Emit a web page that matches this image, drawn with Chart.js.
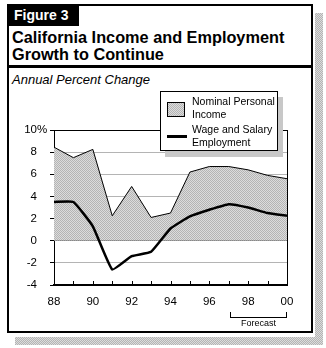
<!DOCTYPE html>
<html lang="en">
<head>
  <meta charset="UTF-8">
  <title>Figure 3</title>
  <script src="https://cdn.jsdelivr.net/npm/chart.js"></script>
  <style>
    body { margin: 0; width: 326px; height: 348px; position: relative; background: #fff; overflow: hidden;
           font-family: "Liberation Sans", Arial, sans-serif; }
    .abs { position: absolute; }
    .dither { background: repeating-conic-gradient(#b4b4b4 0 25%, #dcdcdc 0 50%) 0 0 / 2px 2px; }
    #shadowR { left: 315px; top: 13px; width: 8px; height: 332px; }
    #shadowB { left: 15px; top: 337px; width: 308px; height: 8px; }
    #frame { left: 7px; top: 4px; width: 306px; height: 329px; border: 2px solid #000; box-sizing: border-box; background: #fff; }
    #tag { left: 7px; top: 4px; width: 72px; height: 22px; background: #000; color: #fff;
           font-weight: bold; font-size: 14px; line-height: 22px; padding-left: 7px; box-sizing: border-box; }
    #title { left: 12px; top: 29px; font-weight: bold; font-size: 16.3px; line-height: 17px; color: #000; }
    #rule { left: 7px; top: 65px; width: 306px; height: 3px; background: #000; }
    #sub { left: 12px; top: 72px; font-style: italic; font-size: 13px; }
    #chart { left: 0; top: 0; }
    #legend { left: 160px; top: 91px; width: 118px; height: 60px; border: 1px solid #000; background: #fff;
              box-sizing: border-box; box-shadow: 5px 6px 0 #c8c8c8; font-size: 10.5px; line-height: 12.5px; }
    #legend .sw { position: absolute; left: 6px; top: 10px; width: 18px; height: 15px; border: 1px solid #000; box-sizing: border-box; }
    #legend .ln { position: absolute; left: 6px; top: 43px; width: 20px; height: 3px; background: #000; }
    #legend .t1 { position: absolute; left: 31px; top: 3px; }
    #legend .t2 { position: absolute; left: 31px; top: 31px; }
    #bracket { left: 230px; top: 312px; width: 57px; height: 6px; border: 1px solid #000; border-top: none; box-sizing: border-box; }
    #fc { left: 230px; top: 318px; width: 57px; text-align: center; font-size: 9px; }
  </style>
</head>
<body>
  <div class="abs dither" id="shadowR"></div>
  <div class="abs dither" id="shadowB"></div>
  <div class="abs" id="frame"></div>
  <div class="abs" id="tag">Figure 3</div>
  <div class="abs" id="title">California Income and Employment<br>Growth to Continue</div>
  <div class="abs" id="rule"></div>
  <div class="abs" id="sub">Annual Percent Change</div>
  <canvas class="abs" id="chart" width="326" height="348"></canvas>
  <div class="abs" id="legend">
    <div class="sw dither"></div>
    <div class="t1">Nominal Personal<br>Income</div>
    <div class="ln"></div>
    <div class="t2">Wage and Salary<br>Employment</div>
  </div>
  <div class="abs" id="bracket"></div>
  <div class="abs" id="fc">Forecast</div>

  <script>
    // years 1988-2000, percent change
    const years = [88, 89, 90, 91, 92, 93, 94, 95, 96, 97, 98, 99, 100];
    const personalIncome = [8.45, 7.5, 8.25, 2.25, 4.9, 2.1, 2.5, 6.2, 6.7, 6.7, 6.4, 5.9, 5.6];
    const wageEmployment = [3.5, 3.5, 1.3, -2.6, -1.4, -1.0, 1.1, 2.2, 2.8, 3.3, 3.0, 2.5, 2.25];
    const yTicks = [-4, -2, 0, 2, 4, 6, 8, 10];

    // checkerboard gray for the income area
    const pc = document.createElement('canvas');
    pc.width = 2; pc.height = 2;
    const pctx = pc.getContext('2d');
    pctx.fillStyle = '#dcdcdc'; pctx.fillRect(0, 0, 2, 2);
    pctx.fillStyle = '#b4b4b4'; pctx.fillRect(0, 0, 1, 1); pctx.fillRect(1, 1, 1, 1);
    const ctx = document.getElementById('chart');
    const dither = ctx.getContext('2d').createPattern(pc, 'repeat');

    const axisFont = { family: '"Liberation Sans", Arial, sans-serif', size: 11.5 };

    // small year ticks pointing up from the x axis, and the % sign after 10
    const extras = {
      id: 'extras',
      afterDraw(chart) {
        const c = chart.ctx, x = chart.scales.x, y = chart.scales.y;
        c.save();
        c.strokeStyle = '#000';
        c.lineWidth = 1;
        years.forEach(v => {
          const px = Math.round(x.getPixelForValue(v)) + 0.5;
          c.beginPath();
          c.moveTo(px, chart.chartArea.bottom);
          c.lineTo(px, chart.chartArea.bottom - 4);
          c.stroke();
        });
        c.fillStyle = '#000';
        c.font = '11.5px "Liberation Sans", Arial, sans-serif';
        c.textAlign = 'left';
        c.textBaseline = 'middle';
        c.fillText('%', 37, y.getPixelForValue(10));
        c.restore();
      }
    };

    new Chart(ctx, {
      type: 'line',
      data: {
        datasets: [{
          label: 'Wage and Salary Employment',
          data: years.map((v, i) => ({ x: v, y: wageEmployment[i] })),
          borderColor: '#000',
          borderWidth: 2.5,
          pointRadius: 0,
          tension: 0.12,
          fill: false,
          order: 1
        }, {
          label: 'Nominal Personal Income',
          data: years.map((v, i) => ({ x: v, y: personalIncome[i] })),
          borderColor: '#000',
          borderWidth: 1,
          backgroundColor: dither,
          pointRadius: 0,
          tension: 0,
          fill: 'origin',
          order: 2
        }]
      },
      options: {
        responsive: false,
        animation: false,
        layout: { padding: { left: 0, right: 39, top: 130, bottom: 43 } },
        plugins: { legend: { display: false }, tooltip: { enabled: false } },
        scales: {
          x: {
            type: 'linear',
            min: 88, max: 100,
            afterBuildTicks: s => { s.ticks = years.map(v => ({ value: v })); },
            afterFit: s => { s.height = 20; },
            ticks: {
              autoSkip: false,
              maxRotation: 0,
              padding: 10,
              color: '#000',
              font: axisFont,
              callback: v => v % 2 === 0 ? String(v % 100).padStart(2, '0') : ''
            },
            grid: {
              drawTicks: false,
              color: c => c.tick && c.tick.value === 100 ? '#000' : 'rgba(0,0,0,0)'
            },
            border: { color: '#000', width: 2 }
          },
          y: {
            min: -4, max: 10,
            afterBuildTicks: s => { s.ticks = yTicks.map(v => ({ value: v })); },
            afterFit: s => { s.width = 54; },
            ticks: { padding: 13, color: '#000', font: axisFont },
            grid: {
              tickLength: 4,
              tickColor: '#000',
              color: c => (c.tick && (c.tick.value === 0 || c.tick.value === 10)) ? '#000' : '#b4b4b4'
            },
            border: { color: '#000', width: 1 }
          }
        }
      },
      plugins: [extras]
    });
  </script>
</body>
</html>
